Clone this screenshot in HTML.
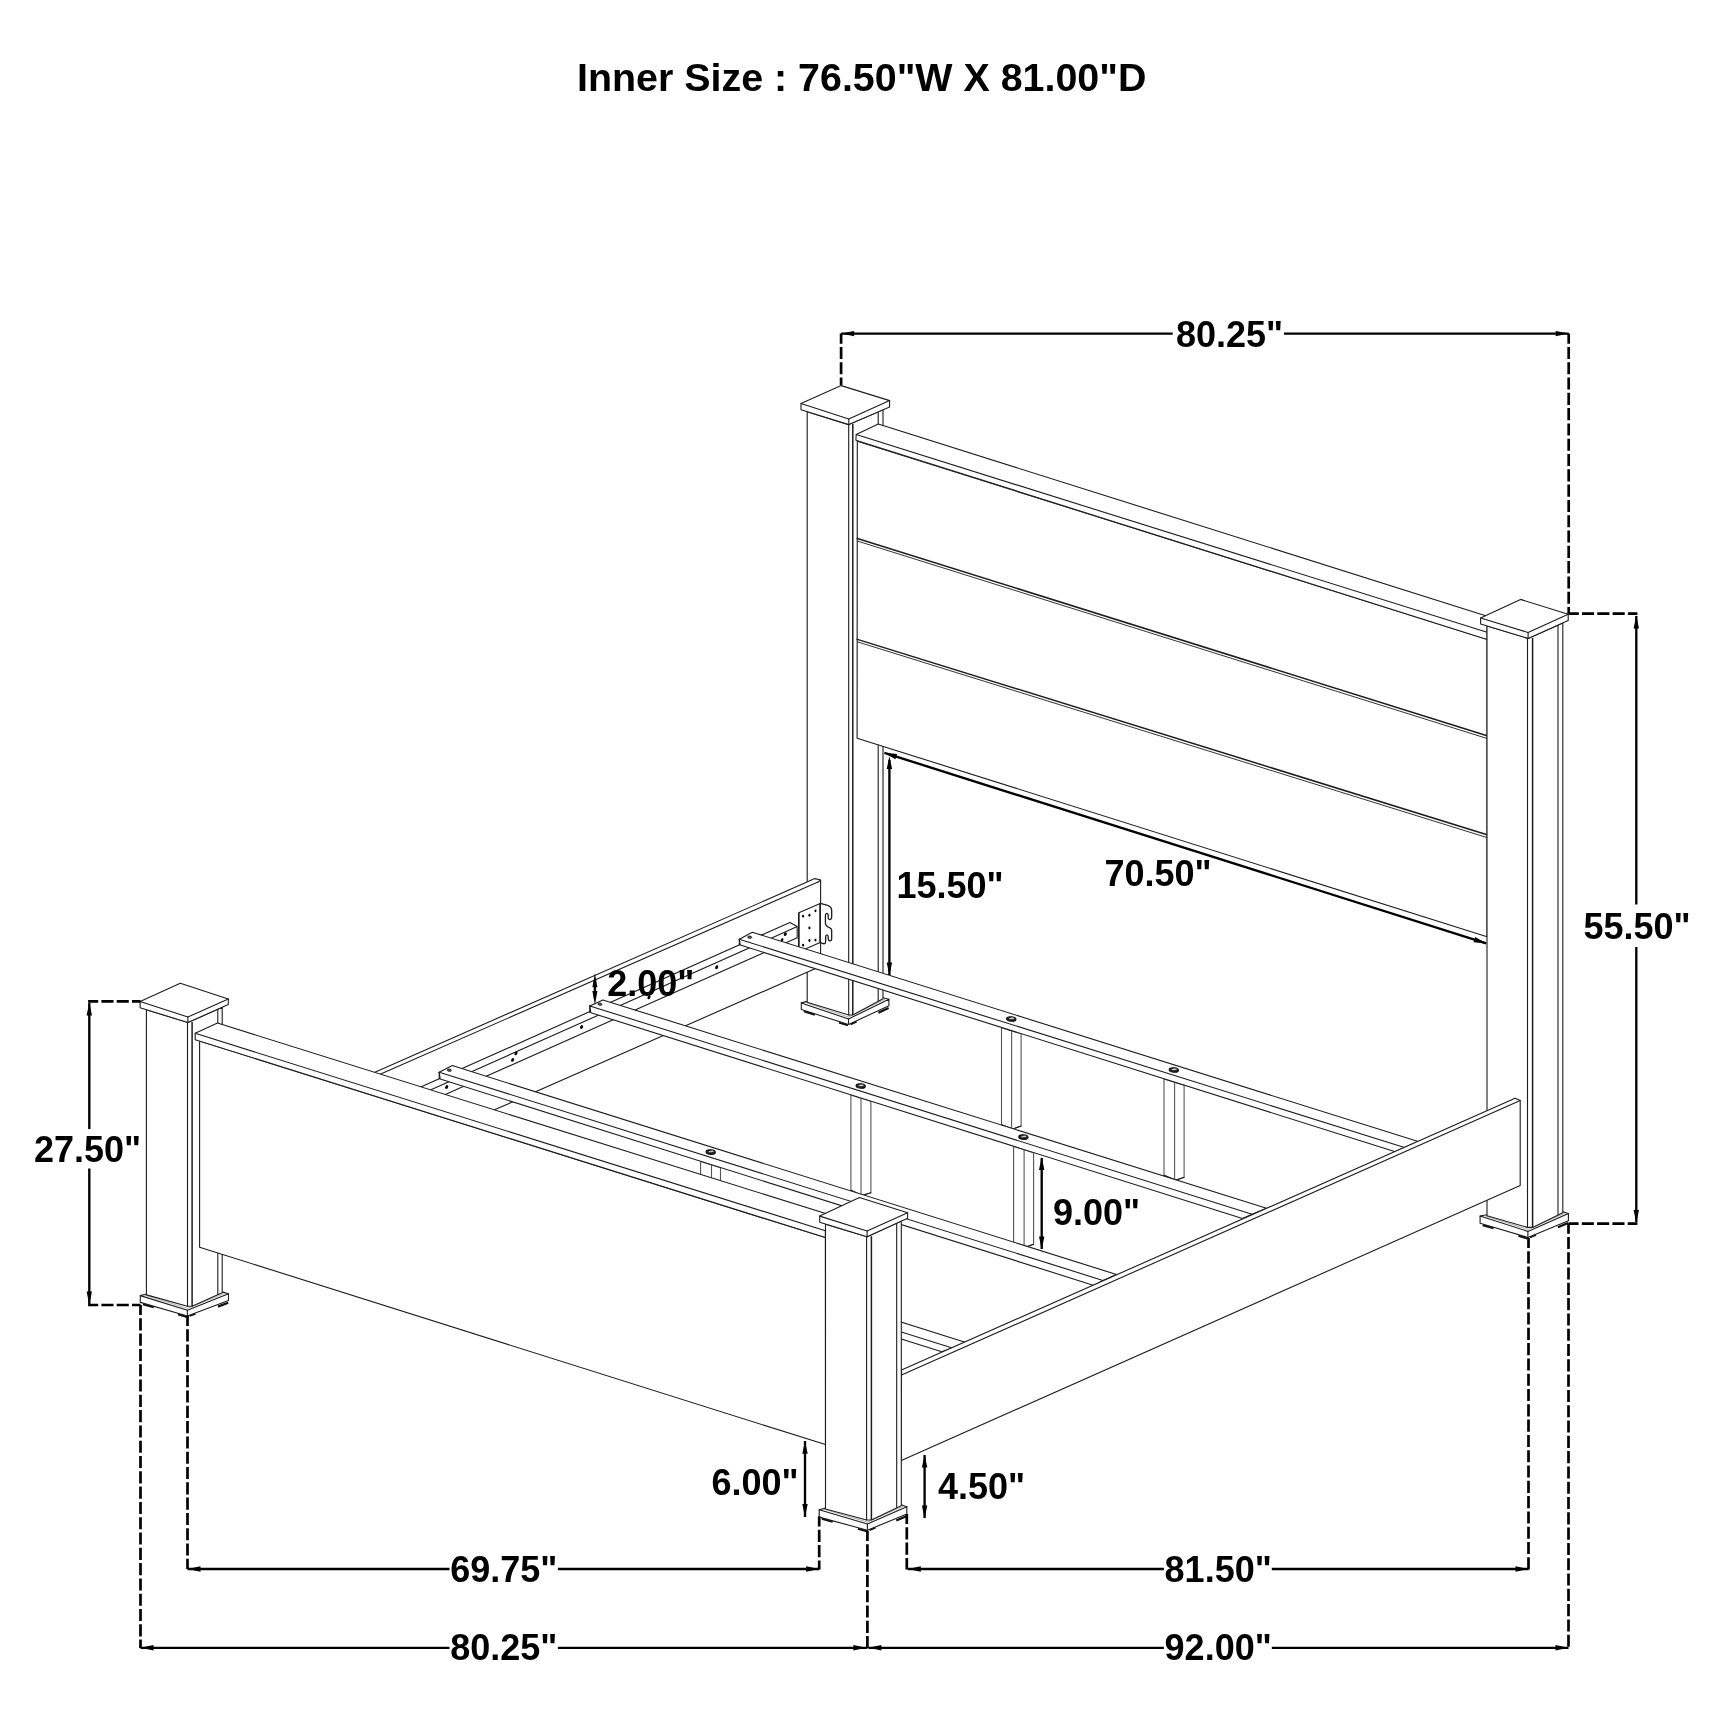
<!DOCTYPE html>
<html><head><meta charset="utf-8"><title>Bed dimensions</title>
<style>
html,body{margin:0;padding:0;background:#fff}
svg{display:block;filter:grayscale(1)}
.t{stroke:#1c1c1c;stroke-width:1.1;fill:none;stroke-linecap:round;stroke-linejoin:round}
.w{stroke:#1c1c1c;stroke-width:1.1;fill:#fff;stroke-linejoin:round}
.d{stroke:#000;stroke-width:2.35;fill:none}
.h{stroke:#000;stroke-width:2.7;fill:none;stroke-dasharray:12.1 3.2;stroke-dashoffset:2}
.t2{stroke:#1c1c1c;stroke-width:1.5;fill:none}
.t1{stroke:#1c1c1c;stroke-width:0.9;fill:none}
.g{stroke:#555;stroke-width:1.1;fill:none}
.wg{stroke:#555;stroke-width:1.1;fill:#fff;stroke-linejoin:round}
.k3{fill:#222;stroke:#111;stroke-width:1}
.c{stroke:#777;stroke-width:0.6;fill:none}
.a{fill:#000;stroke:none}
.k{fill:#777;stroke:#111;stroke-width:0.9}
.f{stroke:#111;stroke-width:2.2;fill:none;stroke-linecap:butt}
text{font-family:"Liberation Sans",sans-serif;font-weight:bold;fill:#000}
</style></head><body>
<svg width="1726" height="1726" viewBox="0 0 1726 1726">
<rect width="1726" height="1726" fill="#fff"/>
<path class="f" d="M803.9 1011.3L814.8 1014.8"/>
<path class="f" d="M839.0 1022.5L848.0 1025.3"/>
<path class="f" d="M850.5 1024.2L856.5 1021.4"/>
<path class="f" d="M878.4 1012.8L888.6 1008.0"/>
<path class="w" d="M801.3 1002.9L848.5 1019.0L888.9 999.2L888.9 1005.7L848.5 1024.5L801.3 1009.5Z"/>
<path class="t" d="M848.5 1019.0L848.5 1024.5"/>
<path class="t" d="M801.3 1002.9L807.2 1001.4"/>
<path class="t" d="M888.9 999.2L883.0 997.8"/>
<path class="c" d="M804.8 1002.2L848.5 1017.1L885.4 999.0"/>
<path class="w" d="M807.2 411.7L807.2 1002.3L848.7 1015.0L852.8 1015.0L883.0 998.7L883.0 409.8L848.8 424.6Z"/>
<path class="t" d="M848.7 424.6L848.7 1015.0"/>
<path class="t2" d="M852.8 424.1L852.8 1015.0"/>
<path class="t" d="M878.2 411.9L878.2 1000.8"/>
<path class="w" d="M801.0 403.4L841.2 385.6L889.6 400.6L889.6 407.0L848.8 424.6L801.0 409.8Z"/>
<path class="t" d="M801.0 403.4L848.8 419.1L889.6 400.6"/>
<path class="t" d="M848.8 419.1L848.8 424.6"/>
<path class="w" d="M857.3 441.2L1487.1 639.3L1487.1 936.8L857.1 738.2Z"/>
<path class="w" d="M856.2 434.6L878.3 424.0L1484.1 615.2L1487.1 617.2L1487.1 632.3L1487.1 639.4L855.9 440.3Z"/>
<path class="t" d="M856.2 434.6L1487.1 632.3"/>
<path class="t2" d="M856.6 538.2L1487.1 735.8"/>
<path class="t1" d="M857.3 541.0L1487.1 738.5"/>
<path class="t2" d="M856.6 639.1L1487.1 834.7"/>
<path class="t1" d="M857.3 641.8L1487.1 837.6"/>
<path class="f" d="M1482.7 1225.1L1493.6 1228.3"/>
<path class="f" d="M1518.4 1235.7L1527.4 1238.4"/>
<path class="f" d="M1529.9 1237.3L1535.9 1234.8"/>
<path class="f" d="M1557.9 1227.3L1568.1 1223.0"/>
<path class="w" d="M1480.1 1216.1L1527.9 1231.4L1568.4 1213.6L1568.4 1220.7L1527.9 1237.5L1480.1 1223.3Z"/>
<path class="t" d="M1527.9 1231.4L1527.9 1237.5"/>
<path class="t" d="M1480.1 1216.1L1487.0 1214.8"/>
<path class="t" d="M1568.4 1213.6L1562.8 1211.8"/>
<path class="c" d="M1483.6 1215.3L1527.9 1229.5L1564.9 1213.2"/>
<path class="w" d="M1487.0 625.9L1487.0 1215.7L1527.5 1227.4L1532.6 1227.4L1562.8 1212.7L1562.8 622.9L1528.1 638.4Z"/>
<path class="t" d="M1527.5 638.4L1527.5 1227.4"/>
<path class="t2" d="M1532.6 637.9L1532.6 1227.4"/>
<path class="t" d="M1558.0 625.1L1558.0 1214.6"/>
<path class="w" d="M1480.6 618.0L1520.5 599.4L1568.2 614.2L1568.2 620.5L1528.1 638.4L1480.6 624.0Z"/>
<path class="t" d="M1480.6 618.0L1528.1 632.5L1568.2 614.2"/>
<path class="t" d="M1528.1 632.5L1528.1 638.4"/>
<path class="w" d="M372.0 1073.4L814.9 878.6L820.6 880.0L820.6 966.3L496.2 1109.1L372.0 1164.0Z"/>
<path class="t" d="M375.0 1076.5L818.0 882.1"/>
<path class="t" d="M818.0 882.1L820.6 880.0"/>
<path class="w" d="M400.0 1096.2L789.9 922.4L797.2 926.6L797.2 937.8L400.0 1114.7Z"/>
<path class="t" d="M400.0 1103.6L797.2 926.6"/>
<ellipse class="a" cx="785.3" cy="934.2" rx="1.9" ry="1.4" transform="rotate(-60 785.3 934.2)"/>
<ellipse class="a" cx="782.1" cy="939.8" rx="1.7" ry="1.2" transform="rotate(-60 782.1 939.8)"/>
<ellipse class="a" cx="581.6" cy="1027.0" rx="2.0" ry="1.4" transform="rotate(-60 581.6 1027.0)"/>
<ellipse class="a" cx="516.0" cy="1053.4" rx="2.0" ry="1.4" transform="rotate(-60 516.0 1053.4)"/>
<ellipse class="a" cx="512.6" cy="1059.9" rx="2.0" ry="1.4" transform="rotate(-60 512.6 1059.9)"/>
<ellipse class="a" cx="446.7" cy="1087.0" rx="2.0" ry="1.4" transform="rotate(-60 446.7 1087.0)"/>
<ellipse class="a" cx="649.0" cy="997.2" rx="2.0" ry="1.4" transform="rotate(-60 649.0 997.2)"/>
<ellipse class="a" cx="716.7" cy="967.3" rx="2.0" ry="1.4" transform="rotate(-60 716.7 967.3)"/>
<path class="w" d="M798.77 912.71L820.23 903.44L820.23 942.38L798.77 951.65Z"/>
<path class="t2" d="M798.77 912.71 L798.77 951.65"/>
<path class="w" style="stroke-width:1.3" d="M820.23 903.44L826.81 905.06C829.59 905.76 831.68 907.61 831.68 910.39L831.68 917.11C831.68 920.13 828.44 920.59 828.20 917.35L828.20 915.26C828.20 912.71 825.42 912.71 825.42 915.49L825.42 922.91C825.42 926.15 828.20 927.08 829.83 927.78C830.98 928.24 831.68 928.93 831.68 930.32L831.68 938.44C831.68 941.45 828.44 941.68 828.20 938.67L828.20 936.81C828.20 934.26 825.65 934.26 825.65 936.81L825.65 941.68C825.65 944.46 823.11 944.23 820.23 942.38Z"/>
<path class="t" d="M820.2 903.4L820.2 942.6"/>
<ellipse class="a" cx="815.46" cy="910.86" rx="1.05" ry="1.4"/>
<ellipse class="a" cx="809.43" cy="915.26" rx="1.05" ry="1.4"/>
<ellipse class="a" cx="803.08" cy="916.19" rx="1.05" ry="1.4"/>
<ellipse class="a" cx="809.43" cy="928.01" rx="1.05" ry="1.4"/>
<ellipse class="a" cx="815.46" cy="940.06" rx="1.05" ry="1.4"/>
<ellipse class="a" cx="809.43" cy="940.52" rx="1.05" ry="1.4"/>
<ellipse class="a" cx="803.08" cy="945.16" rx="1.05" ry="1.4"/>
<path style="stroke:#666;stroke-width:1;fill:none" d="M797.47 925.92 L797.47 938.67"/>
<path class="wg" d="M1001.5 1027.7L1001.5 1124.7L1011.6 1128.5L1014.8 1128.3L1021.1 1126.0L1021.1 1033.8Z"/>
<path class="g" d="M1011.6 1030.8L1011.6 1128.5"/>
<path class="t" d="M1001.5 1124.7L1011.6 1128.5L1014.8 1128.3L1021.1 1126.0"/>
<path class="wg" d="M1164.0 1078.9L1164.0 1175.2L1174.6 1179.7L1177.8 1179.5L1184.1 1177.2L1184.1 1085.2Z"/>
<path class="g" d="M1174.6 1082.2L1174.6 1179.7"/>
<path class="t" d="M1164.0 1175.2L1174.6 1179.7L1177.8 1179.5L1184.1 1177.2"/>
<path class="w" d="M739.3 939.3L752.3 932.2L1418.2 1141.6L1404.5 1147.5L1395.3 1151.8L740.3 945.0Z"/>
<path class="t" d="M739.3 939.3L1404.5 1147.5"/>
<path class="t" d="M739.3 939.3L739.3 944.7"/>
<ellipse class="k" cx="749.7" cy="937.2" rx="2.0" ry="1.1" transform="rotate(8 749.7 937.2)"/>
<ellipse class="k3" cx="1011.3" cy="1019.0" rx="4.7" ry="2.3" transform="rotate(5 1011.3 1019.0)"/>
<ellipse fill="#c8c8c8" cx="1011.7" cy="1018.4" rx="2.7" ry="0.8" transform="rotate(-5 1011.3 1019.0)"/>
<ellipse class="k3" cx="1173.8" cy="1070.0" rx="4.7" ry="2.3" transform="rotate(5 1173.8 1070.0)"/>
<ellipse fill="#c8c8c8" cx="1174.2" cy="1069.4" rx="2.7" ry="0.8" transform="rotate(-5 1173.8 1070.0)"/>
<path class="wg" d="M850.9 1095.0L850.9 1190.2L861.0 1195.0L864.2 1194.8L870.9 1192.8L870.9 1101.3Z"/>
<path class="g" d="M861.0 1098.2L861.0 1195.0"/>
<path class="t" d="M850.9 1190.2L861.0 1195.0L864.2 1194.8L870.9 1192.8"/>
<path class="wg" d="M1013.6 1146.3L1013.6 1242.6L1024.1 1246.7L1027.3 1246.5L1033.6 1244.2L1033.6 1152.7Z"/>
<path class="g" d="M1024.1 1149.7L1024.1 1246.7"/>
<path class="t" d="M1013.6 1242.6L1024.1 1246.7L1027.3 1246.5L1033.6 1244.2"/>
<path class="w" d="M589.8 1005.9L602.9 999.9L1266.5 1208.3L1252.1 1214.3L1242.4 1218.5L590.8 1012.7Z"/>
<path class="t" d="M589.8 1005.9L1252.1 1214.3"/>
<path class="t" d="M589.8 1005.9L589.8 1012.4"/>
<ellipse class="k" cx="599.9" cy="1004.2" rx="2.0" ry="1.1" transform="rotate(8 599.9 1004.2)"/>
<ellipse class="k3" cx="860.7" cy="1086.0" rx="4.7" ry="2.3" transform="rotate(5 860.7 1086.0)"/>
<ellipse fill="#c8c8c8" cx="861.1" cy="1085.4" rx="2.7" ry="0.8" transform="rotate(-5 860.7 1086.0)"/>
<ellipse class="k3" cx="1023.4" cy="1137.1" rx="4.7" ry="2.3" transform="rotate(5 1023.4 1137.1)"/>
<ellipse fill="#c8c8c8" cx="1023.8" cy="1136.5" rx="2.7" ry="0.8" transform="rotate(-5 1023.4 1137.1)"/>
<path class="wg" d="M700.6 1161.4L700.6 1230.0L711.5 1240.0L714.7 1239.8L720.5 1238.0L720.5 1167.7Z"/>
<path class="g" d="M711.5 1164.8L711.5 1240.0"/>
<path class="t" d="M700.6 1230.0L711.5 1240.0L714.7 1239.8L720.5 1238.0"/>
<path class="wg" d="M863.0 1212.6L863.0 1290.0L873.5 1295.0L876.7 1294.8L883.0 1293.0L883.0 1218.9Z"/>
<path class="g" d="M873.5 1215.9L873.5 1295.0"/>
<path class="t" d="M863.0 1290.0L873.5 1295.0L876.7 1294.8L883.0 1293.0"/>
<path class="w" d="M439.2 1072.2L452.3 1065.6L1116.5 1274.5L1102.9 1280.4L1093.9 1285.4L440.2 1079.0Z"/>
<path class="t" d="M439.2 1072.2L1102.9 1280.4"/>
<path class="t" d="M439.2 1072.2L439.2 1078.7"/>
<ellipse class="k" cx="449.3" cy="1070.2" rx="2.0" ry="1.1" transform="rotate(8 449.3 1070.2)"/>
<ellipse class="k3" cx="710.7" cy="1152.1" rx="4.7" ry="2.3" transform="rotate(5 710.7 1152.1)"/>
<ellipse fill="#c8c8c8" cx="711.1" cy="1151.5" rx="2.7" ry="0.8" transform="rotate(-5 710.7 1152.1)"/>
<path class="w" d="M288.5 1139.5L301.5 1133.2L965.9 1342.4L952.3 1348.0L941.8 1351.7L289.5 1146.3Z"/>
<path class="t" d="M288.5 1139.5L952.3 1348.0"/>
<path class="t" d="M288.5 1139.5L288.5 1146.0"/>
<path class="w" d="M901.5 1370.1L1515.1 1098.2L1520.2 1100.5L1520.2 1185.5L901.3 1460.5Z"/>
<path class="t" d="M901.5 1375.1L1520.2 1100.5"/>
<path class="f" d="M142.9 1304.2L153.8 1307.3"/>
<path class="f" d="M177.9 1314.3L186.9 1316.9"/>
<path class="f" d="M189.4 1315.8L195.4 1313.6"/>
<path class="f" d="M218.0 1306.6L228.2 1302.7"/>
<path class="w" d="M140.3 1295.6L187.4 1310.3L228.5 1293.7L228.5 1300.4L187.4 1316.0L140.3 1302.4Z"/>
<path class="t" d="M187.4 1310.3L187.4 1316.0"/>
<path class="t" d="M140.3 1295.6L146.4 1294.0"/>
<path class="t" d="M228.5 1293.7L222.2 1291.9"/>
<path class="c" d="M143.8 1294.8L187.4 1308.4L225.0 1293.2"/>
<path class="w" d="M146.4 1009.7L146.4 1294.9L187.5 1306.3L192.1 1306.3L222.2 1292.8L222.2 1007.3L187.9 1022.5Z"/>
<path class="t" d="M187.5 1022.5L187.5 1306.3"/>
<path class="t2" d="M192.1 1022.0L192.1 1306.3"/>
<path class="t" d="M217.8 1009.3L217.8 1294.4"/>
<path class="w" d="M140.1 1001.4L180.3 983.3L228.3 998.9L228.3 1004.6L187.9 1022.5L140.1 1007.8Z"/>
<path class="t" d="M140.1 1001.4L187.9 1017.0L228.3 998.9"/>
<path class="t" d="M187.9 1017.0L187.9 1022.5"/>
<path class="w" d="M199.6 1041.0L825.4 1237.6L825.5 1444.6L199.6 1247.2Z"/>
<path class="w" d="M195.2 1033.3L217.5 1023.1L830.5 1215.1L825.4 1230.8L825.4 1237.6L195.2 1039.7Z"/>
<path class="t" d="M195.2 1033.3L825.4 1230.8"/>
<path class="f" d="M821.8 1518.8L832.7 1521.8"/>
<path class="f" d="M857.9 1528.7L866.9 1531.2"/>
<path class="f" d="M869.4 1530.1L875.4 1527.6"/>
<path class="f" d="M896.3 1520.5L906.5 1516.3"/>
<path class="w" d="M819.2 1509.7L867.4 1524.0L906.8 1506.7L906.8 1514.0L867.4 1530.3L819.2 1517.1Z"/>
<path class="t" d="M867.4 1524.0L867.4 1530.3"/>
<path class="t" d="M819.2 1509.7L825.5 1508.1"/>
<path class="t" d="M906.8 1506.7L901.3 1504.8"/>
<path class="c" d="M822.7 1508.8L867.4 1522.1L903.3 1506.3"/>
<path class="w" d="M825.5 1224.1L825.5 1509.0L866.6 1520.0L871.4 1520.0L901.3 1505.7L901.3 1221.1L867.1 1236.7Z"/>
<path class="t" d="M866.6 1236.7L866.6 1520.0"/>
<path class="t2" d="M871.4 1236.2L871.4 1520.0"/>
<path class="t" d="M896.7 1223.2L896.7 1507.5"/>
<path class="w" d="M819.7 1216.1L859.4 1197.4L907.6 1212.7L907.6 1218.2L867.1 1236.7L819.7 1222.3Z"/>
<path class="t" d="M819.7 1216.1L867.1 1230.9L907.6 1212.7"/>
<path class="t" d="M867.1 1230.9L867.1 1236.7"/>
<text x="577.0" y="91.0" font-size="39.4">Inner Size : 76.50&quot;W X 81.00&quot;D</text>
<text x="1176.0" y="346.8" font-size="36">80.25&quot;</text>
<text x="1583.5" y="939.3" font-size="36">55.50&quot;</text>
<text x="34.0" y="1162.0" font-size="36">27.50&quot;</text>
<text x="896.5" y="897.6" font-size="36">15.50&quot;</text>
<text x="1104.4" y="885.7" font-size="36">70.50&quot;</text>
<text x="607.3" y="996.0" font-size="36">2.00&quot;</text>
<text x="1053.0" y="1224.5" font-size="36">9.00&quot;</text>
<text x="711.5" y="1494.5" font-size="36">6.00&quot;</text>
<text x="938.0" y="1499.2" font-size="36">4.50&quot;</text>
<text x="450.2" y="1582.2" font-size="36">69.75&quot;</text>
<text x="1164.6" y="1581.8" font-size="36">81.50&quot;</text>
<text x="450.2" y="1660.4" font-size="36">80.25&quot;</text>
<text x="1164.6" y="1660.0" font-size="36">92.00&quot;</text>
<path class="d" d="M841.1 333.6L1172.7 333.6"/>
<path class="d" d="M1284.0 333.6L1568.7 333.6"/>
<path class="a" d="M841.1 333.6L854.1 330.9L854.1 336.3Z"/>
<path class="a" d="M1568.7 333.6L1555.7 336.3L1555.7 330.9Z"/>
<path class="h" d="M841.1 333.6L841.1 385.0"/>
<path class="h" d="M1568.7 333.6L1568.7 614.0"/>
<path class="h" d="M1568.7 613.7L1637.4 613.7"/>
<path class="d" d="M1636.3 616.0L1636.3 904.5"/>
<path class="d" d="M1636.3 947.1L1636.3 1222.0"/>
<path class="a" d="M1636.3 615.5L1639.0 628.5L1633.6 628.5Z"/>
<path class="a" d="M1636.3 1223.0L1633.6 1210.0L1639.0 1210.0Z"/>
<path class="h" d="M1568.5 1223.6L1637.4 1223.6"/>
<path class="d" d="M89.3 1003.0L89.3 1129.1"/>
<path class="d" d="M89.3 1168.5L89.3 1304.0"/>
<path class="a" d="M89.3 1002.5L92.0 1015.5L86.6 1015.5Z"/>
<path class="a" d="M89.3 1304.5L86.6 1291.5L92.0 1291.5Z"/>
<path class="h" d="M88.1 1001.4L140.5 1001.4"/>
<path class="h" d="M88.1 1305.0L140.5 1305.0"/>
<path class="h" d="M140.5 1305.0L140.5 1648.0"/>
<path class="h" d="M187.5 1316.0L187.5 1569.0"/>
<path class="h" d="M819.2 1516.5L819.2 1569.5"/>
<path class="h" d="M867.4 1531.0L867.4 1648.0"/>
<path class="h" d="M906.8 1514.0L906.8 1569.5"/>
<path class="h" d="M1528.5 1238.0L1528.5 1569.5"/>
<path class="h" d="M1568.5 1223.6L1568.5 1648.0"/>
<path class="d" d="M187.5 1569.0L449.5 1569.0"/>
<path class="d" d="M557.9 1569.0L819.2 1569.0"/>
<path class="a" d="M187.5 1569.0L200.5 1566.3L200.5 1571.7Z"/>
<path class="a" d="M819.2 1569.0L806.2 1571.7L806.2 1566.3Z"/>
<path class="d" d="M140.5 1647.8L449.5 1647.8"/>
<path class="d" d="M557.9 1647.8L867.4 1647.8"/>
<path class="a" d="M140.5 1647.8L153.5 1645.1L153.5 1650.5Z"/>
<path class="a" d="M866.4 1647.8L853.4 1650.5L853.4 1645.1Z"/>
<path class="d" d="M907.8 1569.0L1163.9 1569.0"/>
<path class="d" d="M1271.8 1569.0L1528.5 1569.0"/>
<path class="a" d="M907.8 1569.0L920.8 1566.3L920.8 1571.7Z"/>
<path class="a" d="M1528.5 1569.0L1515.5 1571.7L1515.5 1566.3Z"/>
<path class="d" d="M868.4 1647.8L1163.9 1647.8"/>
<path class="d" d="M1271.8 1647.8L1568.5 1647.8"/>
<path class="a" d="M868.4 1647.8L881.4 1645.1L881.4 1650.5Z"/>
<path class="a" d="M1568.5 1647.8L1555.5 1650.5L1555.5 1645.1Z"/>
<path class="d" d="M884.5 752.9L1486.2 943.3"/>
<path class="a" d="M883.9 752.7L897.1 754.0L895.5 759.2Z"/>
<path class="a" d="M1486.7 943.5L1473.5 942.2L1475.1 937.0Z"/>
<path class="d" d="M805.0 1441.0L805.0 1517.0"/>
<path class="a" d="M805.0 1440.7L807.7 1453.7L802.3 1453.7Z"/>
<path class="a" d="M805.0 1516.9L802.3 1503.9L807.7 1503.9Z"/>
<path class="d" d="M924.6 1455.0L924.6 1518.0"/>
<path class="a" d="M924.6 1454.5L927.3 1467.5L921.9 1467.5Z"/>
<path class="a" d="M924.6 1518.5L921.9 1505.5L927.3 1505.5Z"/>
<path class="d" d="M1041.7 1158.0L1041.7 1249.0"/>
<path class="a" d="M1041.7 1157.1L1044.4 1170.1L1039.0 1170.1Z"/>
<path class="a" d="M1041.7 1249.4L1039.0 1236.4L1044.4 1236.4Z"/>
<path class="d" d="M889.4 760.0L889.4 975.0"/>
<path class="a" d="M889.4 756.0L892.1 769.0L886.7 769.0Z"/>
<path class="a" d="M889.4 975.4L886.7 962.4L892.1 962.4Z"/>
<path class="d" d="M594.9 980.0L594.9 998.0"/>
<path class="a" d="M594.9 973.2L597.4 987.2L592.4 987.2Z"/>
<path class="a" d="M594.9 1005.0L592.4 991.0L597.4 991.0Z"/>
</svg>
</body></html>
